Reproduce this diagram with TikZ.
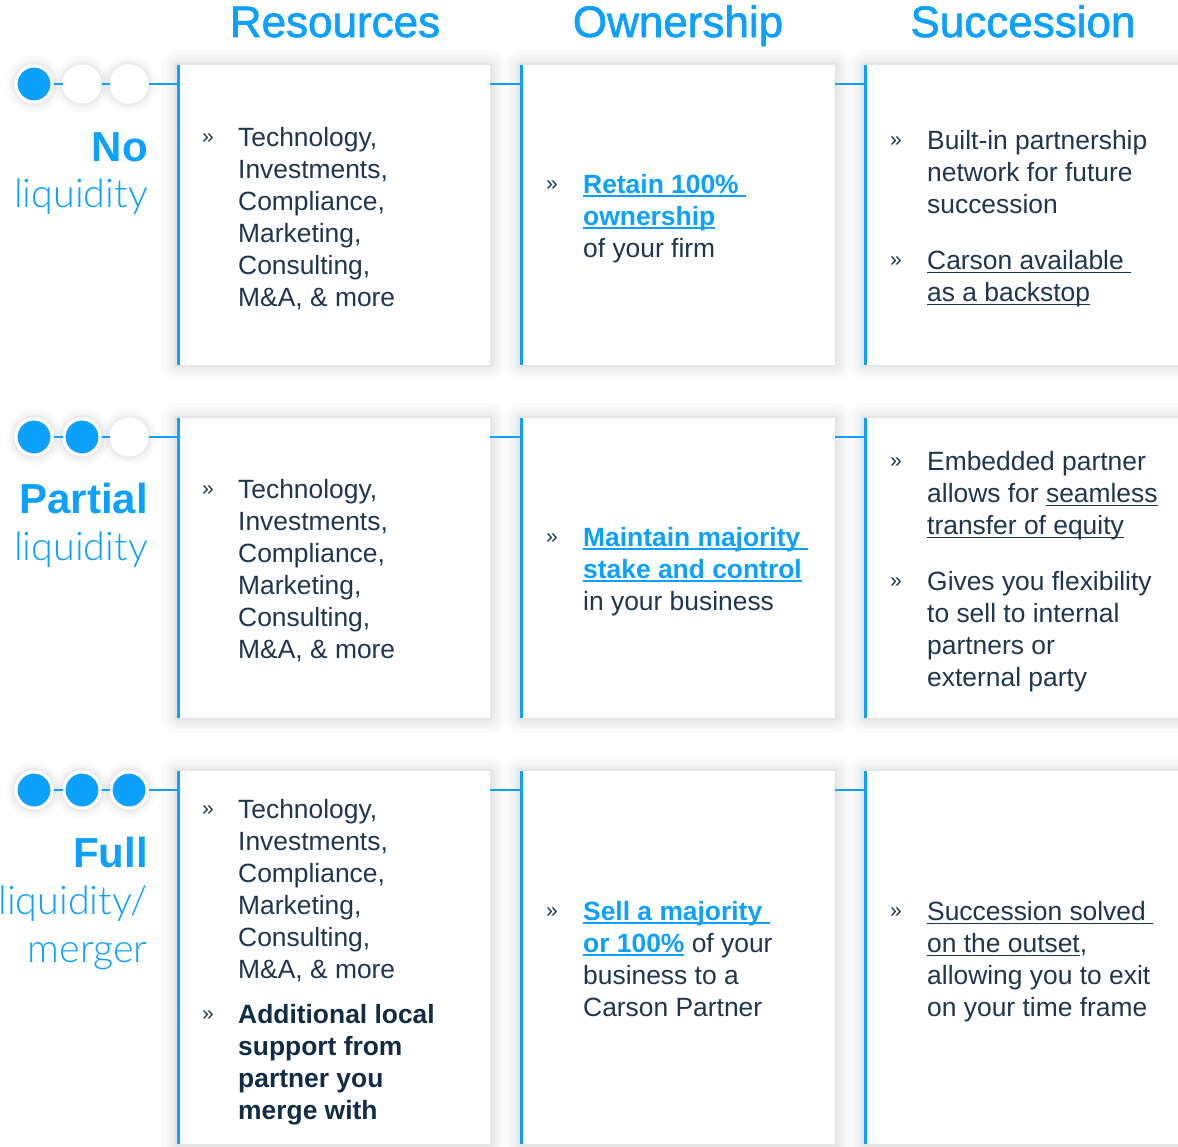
\documentclass[tikz,border=0pt]{standalone}
\usepackage{fontspec}
\setmainfont{Liberation Sans}
\newfontfamily\titlefont[FakeBold=1.5]{Liberation Sans}
\newfontfamily\lightfont{Lato Light}
\usetikzlibrary{calc}
\definecolor{cblue}{RGB}{12,160,255}
\definecolor{ink}{RGB}{30,54,80}
\definecolor{inkb}{RGB}{18,44,70}
\newcommand\ulk[2][1.4pt]{\setbox0\hbox{#2}\rlap{\rule[-4pt]{\wd0}{#1}}\box0}
\newcommand\bl[1]{{\bfseries\color{cblue}\ulk[1.8pt]{#1}}}
\tikzset{
  shad/.style={
    preaction={draw=black,draw opacity=.016,line width=30pt,line join=round},
    preaction={draw=black,draw opacity=.018,line width=22pt,line join=round},
    preaction={draw=black,draw opacity=.02,line width=15pt,line join=round},
    preaction={draw=black,draw opacity=.022,line width=9pt,line join=round},
    preaction={draw=black,draw opacity=.025,line width=4pt,line join=round}},
  dshad/.style={
    preaction={draw=black,draw opacity=.02,line width=20pt},
    preaction={draw=black,draw opacity=.025,line width=13pt},
    preaction={draw=black,draw opacity=.03,line width=8pt}},
  card/.style={shad,fill=white,draw=none,inner sep=0,outer sep=0,anchor=north west},
  dot/.style={circle,dshad,minimum size=36pt,inner sep=0,draw=white,line width=3pt},
  full/.style={dot,fill=cblue},
  empty/.style={dot,fill=white},
  conn/.style={draw=cblue,line width=2.6pt},
  edge/.style={draw=cblue,line width=3pt},
  txt/.style={anchor=base west,inner sep=0,align=left,text=ink,font=\fontsize{26.4}{32}\selectfont},
  btxt/.style={txt,text=inkb,font=\fontsize{26.4}{32}\selectfont\bfseries},
  bul/.style={anchor=base west,inner sep=0,text=ink,font=\fontsize{21}{24}\selectfont},
  ttl/.style={anchor=base,inner sep=0,text=cblue,font=\titlefont\fontsize{44}{50}\selectfont},
  labb/.style={anchor=base east,inner sep=0,text=cblue,font=\fontsize{42}{48}\selectfont\bfseries},
  labl/.style={anchor=base east,inner sep=0,text=cblue,font=\lightfont\fontsize{39.5}{48}\selectfont},
}
\begin{document}
\begin{tikzpicture}[x=1pt,y=-1pt]
\useasboundingbox (0,0) rectangle (1178,1146);
\fill[white] (0,0) rectangle (1178,1146);
% titles
\node[ttl] (t1) at (335,37) {Resources};
\node[ttl] (t2) at (678,37) {Ownership};
\node[ttl] (t3) at (1023,37) {Succession};
% cards
\node[card,minimum width=313pt,minimum height=300pt] (c11) at (177,65) {};
\node[card,minimum width=315pt,minimum height=300pt] (c12) at (520,65) {};
\node[card,minimum width=340pt,minimum height=300pt] (c13) at (864,65) {};
\node[card,minimum width=313pt,minimum height=300pt] (c21) at (177,418) {};
\node[card,minimum width=315pt,minimum height=300pt] (c22) at (520,418) {};
\node[card,minimum width=340pt,minimum height=300pt] (c23) at (864,418) {};
\node[card,minimum width=313pt,minimum height=373pt] (c31) at (177,771) {};
\node[card,minimum width=315pt,minimum height=373pt] (c32) at (520,771) {};
\node[card,minimum width=340pt,minimum height=373pt] (c33) at (864,771) {};
% dots
\node[full]  (d11) at (34,84) {};
\node[empty] (d12) at (82,84) {};
\node[empty] (d13) at (129,84) {};
\node[full]  (d21) at (34,437) {};
\node[full]  (d22) at (82,437) {};
\node[empty] (d23) at (129,437) {};
\node[full]  (d31) at (34,790) {};
\node[full]  (d32) at (82,790) {};
\node[full]  (d33) at (129,790) {};
% connectors
\foreach \r in {1,2,3}{
  \draw[conn] (d\r1) -- (d\r2);
  \draw[conn] (d\r2) -- (d\r3);
  \draw[conn] (d\r3) -- (c\r1.west |- d\r3);
  \draw[conn] (c\r1.east |- d\r3) -- (c\r2.west |- d\r3);
  \draw[conn] (c\r2.east |- d\r3) -- (c\r3.west |- d\r3);
  \foreach \c in {1,2,3}{
    \draw[edge] ([xshift=1.5pt]c\r\c.north west) -- ([xshift=1.5pt]c\r\c.south west);
  }
}
% row labels
\node[labb] (l1a) at (148,161) {No};
\node[labl] (l1b) at (148,207) {liquidity};
\node[labb] (l2a) at (148,513) {Partial};
\node[labl] (l2b) at (148,560) {liquidity};
\node[labb] (l3a) at (148,867) {Full};
\node[labl] (l3b) at (148,914) {liquidity/};
\node[labl] (l3c) at (148,962) {merger};
% row 1 (node base = baseline of last line)
\node[bul] (b11) at (202,143) {»};
\node[txt] (x11) at (238,306) {Technology,\\Investments,\\Compliance,\\Marketing,\\Consulting,\\M\&A, \& more};
\node[bul] (b12) at (546,190) {»};
\node[txt] (x12) at (583,257) {\bl{Retain 100\%\ }\\\bl{ownership}\\of your firm};
\node[bul] (b13) at (890,146) {»};
\node[txt] (x13) at (927,213) {Built-in partnership\\network for future\\succession};
\node[bul] (b13b) at (890,266) {»};
\node[txt] (x13b) at (927,301) {\ulk{Carson available\ }\\\ulk{as a backstop}};
% row 2
\node[bul] (b21) at (202,495) {»};
\node[txt] (x21) at (238,658) {Technology,\\Investments,\\Compliance,\\Marketing,\\Consulting,\\M\&A, \& more};
\node[bul] (b22) at (546,543) {»};
\node[txt] (x22) at (583,610) {\bl{Maintain majority\ }\\\bl{stake and control}\\in your business};
\node[bul] (b23) at (890,467) {»};
\node[txt] (x23) at (927,534) {Embedded partner\\allows for \ulk{seamless}\\\ulk{transfer of equity}};
\node[bul] (b23b) at (890,587) {»};
\node[txt] (x23b) at (927,686) {Gives you flexibility\\to sell to internal\\partners or\\external party};
% row 3
\node[bul] (b31) at (202,815) {»};
\node[txt] (x31) at (238,978) {Technology,\\Investments,\\Compliance,\\Marketing,\\Consulting,\\M\&A, \& more};
\node[bul] (b31b) at (202,1020) {»};
\node[btxt] (x31b) at (238,1119) {Additional local\\support from\\partner you\\merge with};
\node[bul] (b32) at (546,917) {»};
\node[txt] (x32) at (583,1016) {\bl{Sell a majority\ }\\\bl{or 100\%} of your\\business to a\\Carson Partner};
\node[bul] (b33) at (890,917) {»};
\node[txt] (x33) at (927,1016) {\ulk{Succession solved\ }\\\ulk{on the outset},\\allowing you to exit\\on your time frame};
\end{tikzpicture}
\end{document}
